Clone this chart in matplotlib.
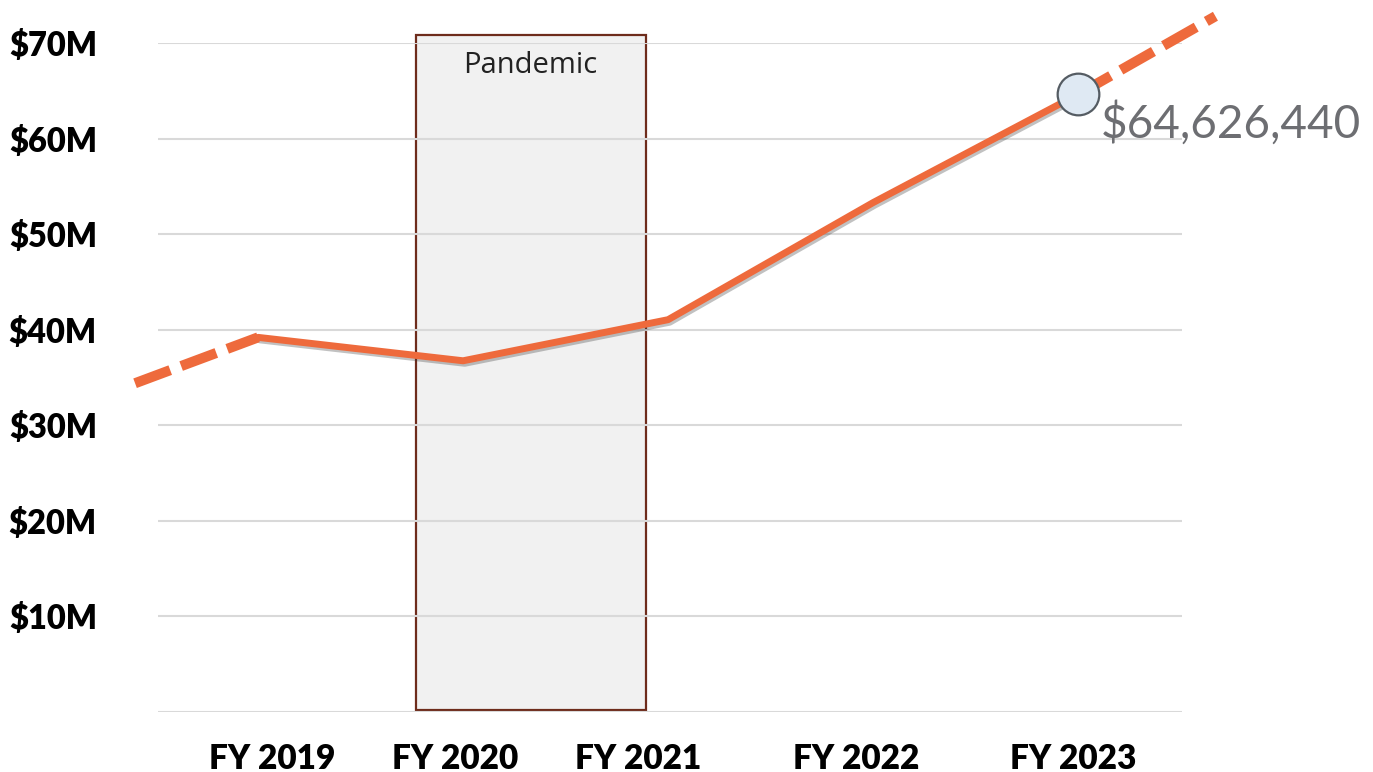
import matplotlib.pyplot as plt
import matplotlib.patheffects as pe
from matplotlib.patches import Rectangle

# data (values in $M)
years = ['FY 2019', 'FY 2020', 'FY 2021', 'FY 2022', 'FY 2023']
revenue = [39.2, 36.75, 41.05, 53.3, 64.63]
lead_in = [34.4, 39.2]       # dashed extension before FY 2019
lead_out = [64.63, 72.8]     # dashed extension after FY 2023
last_label = '$64,626,440'
yticks = [10, 20, 30, 40, 50, 60, 70]
ytick_labels = ['$10M', '$20M', '$30M', '$40M', '$50M', '$60M', '$70M']
label_pos = [0.068, 0.961, 1.854, 2.917, 3.976]
pandemic = (0.77, 1.89)

orange = '#ee6a3c'

fig = plt.figure(figsize=(13.73, 7.72), dpi=100)
ax = fig.add_axes([0.1151, 0.0777, 0.7458, 0.8666])
ax.set_xlim(-0.488, 4.507)
ax.set_ylim(0, 70)

x = list(range(len(years)))

# pandemic band
ax.add_patch(Rectangle((pandemic[0], 0.2), pandemic[1] - pandemic[0], 70.6,
                       facecolor='#f1f1f1', edgecolor='#6e2c1c', lw=1.6,
                       zorder=0.5, clip_on=False))
ax.text((pandemic[0] + pandemic[1]) / 2, 67.6, 'Pandemic', ha='center', va='center',
        fontsize=21, family=['Open Sans', 'DejaVu Sans'], color='#222222')

# grid
for v in [0] + yticks:
    ax.axhline(v, color='#d9d9d9', lw=1.5, zorder=1)

# main line with shadow
ax.plot(x, revenue, color=orange, lw=5, solid_capstyle='round', zorder=3,
        path_effects=[pe.SimpleLineShadow(offset=(1.2, -1.8), shadow_color='#333333', alpha=0.3),
                      pe.Normal()])

# dashed extensions
ax.plot([-0.6, 0], lead_in, color=orange, lw=7.3, dashes=(3.7, 1.15),
        dash_capstyle='butt', clip_on=False, zorder=3)
ax.plot([4, 4.67], lead_out, color=orange, lw=7.3, dashes=(3.7, 1.15),
        dash_capstyle='butt', clip_on=False, zorder=3)

ax.plot([x[-1]], [revenue[-1]], 'o', ms=30, mfc='#dfe9f3', mec='#555c63', mew=1.6,
        zorder=4, clip_on=False)
ax.annotate(last_label, (x[-1], revenue[-1]), xytext=(16, -31), textcoords='offset points',
            ha='left', va='baseline', fontsize=33, color='#6d6e72',
            family=['Lato', 'DejaVu Sans'])

ax.set_yticks(yticks)
ax.set_yticklabels(ytick_labels, fontsize=23.5, fontweight='heavy', family=['Lato', 'DejaVu Sans'])
ax.set_xticks(label_pos)
ax.set_xticklabels(years, fontsize=24, fontweight='heavy', family=['Lato', 'DejaVu Sans'])
ax.tick_params(axis='y', length=0, pad=44)
ax.tick_params(axis='x', length=0, pad=22)
for s in ax.spines.values():
    s.set_visible(False)

fig.savefig('out.png', dpi=100)
